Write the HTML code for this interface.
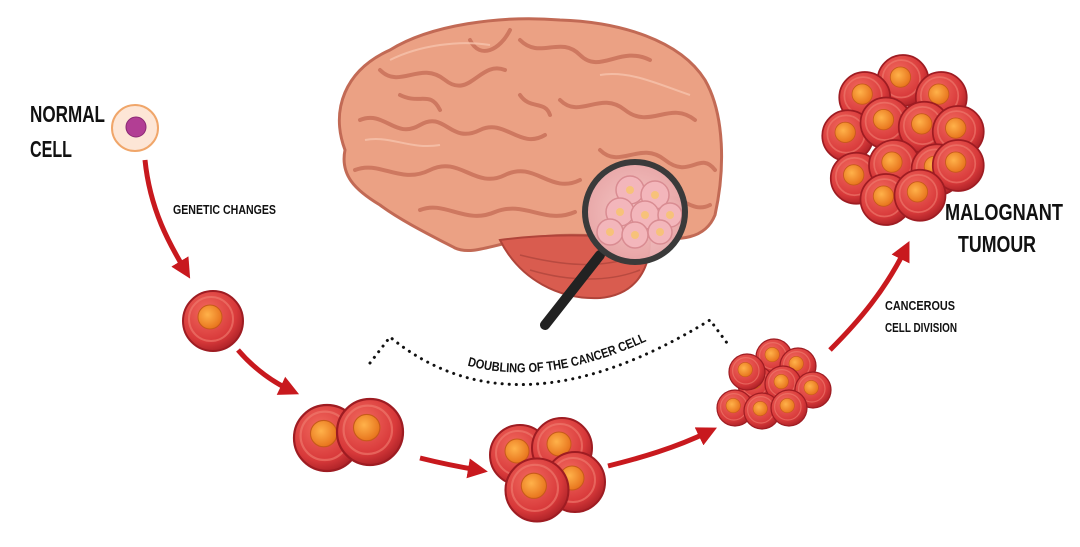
<!DOCTYPE html>
<html><head><meta charset="utf-8"><style>
html,body{margin:0;padding:0;background:#fff;width:1080px;height:547px;overflow:hidden}
svg{display:block}
text{font-family:"Liberation Sans Narrow","Liberation Sans",sans-serif;font-weight:bold;fill:#111}
</style></head><body>
<svg width="1080" height="547" viewBox="0 0 1080 547" xmlns="http://www.w3.org/2000/svg">
<defs>
<radialGradient id="cell" cx="0.4" cy="0.35" r="0.7">
<stop offset="0" stop-color="#f26a5e"/><stop offset="0.7" stop-color="#d8393a"/><stop offset="1" stop-color="#a81f25"/></radialGradient>
<radialGradient id="nuc" cx="0.4" cy="0.4" r="0.6">
<stop offset="0" stop-color="#ffb24a"/><stop offset="1" stop-color="#e8761e"/></radialGradient>
<radialGradient id="lens" cx="0.5" cy="0.5" r="0.5">
<stop offset="0" stop-color="#f6c8c8"/><stop offset="1" stop-color="#e8a8aa"/></radialGradient>
<g id="c"><circle r="30" fill="url(#cell)" stroke="#9e1c22" stroke-width="2"/><circle cx="-2" cy="-2" r="22" fill="none" stroke="#f07f72" stroke-width="2" opacity="0.6"/><circle cx="-3" cy="-4" r="12" fill="url(#nuc)" stroke="#c75a1a" stroke-width="1"/></g>
<marker id="ah" viewBox="0 0 10 10" refX="5" refY="5" markerWidth="4" markerHeight="4" orient="auto"><path d="M0,0 L10,5 L0,10 z" fill="#c8191e"/></marker>
<path id="tp" d="M395,328 Q515,425 705,310"/>
</defs>

<!-- Brain -->
<g>
<path d="M345,150 C330,110 345,70 390,50 C430,25 500,15 560,20 C620,22 680,40 705,80 C725,115 725,170 715,215 C705,240 680,240 650,238 C600,236 560,232 520,240 C490,246 470,255 455,248 C430,235 400,220 380,205 C355,190 340,175 345,150 Z" fill="#eba184" stroke="#c26a55" stroke-width="3"/>
<path d="M500,240 C520,280 560,300 600,298 C635,295 650,270 650,240 C610,236 560,232 500,240 Z" fill="#d95c4f" stroke="#b0443a" stroke-width="2"/>
<g fill="none" stroke="#c9715a" stroke-width="4" stroke-linecap="round" opacity="0.85">
<path d="M380,70 C400,90 420,60 445,80 C470,100 480,60 505,70"/>
<path d="M520,40 C540,60 560,35 580,55 C600,75 620,45 650,60"/>
<path d="M360,120 C385,110 395,140 420,125 C445,110 450,145 480,130 C505,118 520,150 545,135"/>
<path d="M560,100 C580,120 600,90 625,110 C650,130 670,100 695,120"/>
<path d="M355,170 C380,160 400,185 430,170 C460,155 475,190 505,175 C535,160 550,195 580,180"/>
<path d="M600,150 C620,170 640,140 665,160 C690,180 700,150 715,170"/>
<path d="M420,210 C445,200 465,225 495,212 C525,200 545,225 575,212"/>
<path d="M400,95 C420,105 430,90 440,110"/>
<path d="M470,40 C480,60 500,50 510,30"/>
<path d="M660,200 C680,190 690,215 710,205"/>
<path d="M520,95 C530,110 545,100 550,115"/>
</g>
<g fill="none" stroke="#f6c3ad" stroke-width="2" opacity="0.8">
<path d="M390,60 C420,45 460,40 490,45"/>
<path d="M365,140 C390,135 410,150 440,145"/>
<path d="M600,75 C630,70 660,85 690,95"/>
</g>
<g stroke="#b84a40" stroke-width="1.5" fill="none"><path d="M520,255 C560,265 600,270 640,255"/><path d="M530,270 C570,282 610,282 640,270"/></g>
</g>
<!-- magnifier -->
<line x1="600" y1="255" x2="545" y2="325" stroke="#222" stroke-width="10" stroke-linecap="round"/>
<circle cx="635" cy="212" r="50" fill="url(#lens)" opacity="0.95"/>
<g fill="#f3b6bb" stroke="#d98c92" stroke-width="1.5">
<circle cx="630" cy="190" r="14"/><circle cx="655" cy="195" r="14"/><circle cx="620" cy="212" r="14"/><circle cx="645" cy="215" r="14"/><circle cx="670" cy="215" r="12"/><circle cx="610" cy="232" r="13"/><circle cx="635" cy="235" r="13"/><circle cx="660" cy="232" r="12"/></g>
<g fill="#f7c27a"><circle cx="630" cy="190" r="4"/><circle cx="655" cy="195" r="4"/><circle cx="620" cy="212" r="4"/><circle cx="645" cy="215" r="4"/><circle cx="670" cy="215" r="4"/><circle cx="610" cy="232" r="4"/><circle cx="635" cy="235" r="4"/><circle cx="660" cy="232" r="4"/></g>
<circle cx="635" cy="212" r="50" fill="none" stroke="#3a3a3a" stroke-width="6"/>

<!-- normal cell -->
<circle cx="135" cy="128" r="23" fill="#fde6d6" stroke="#f0a66a" stroke-width="2"/>
<circle cx="136" cy="127" r="10" fill="#b23e94" stroke="#8c2a74"/>
<text x="30" y="122" font-size="23" textLength="75" lengthAdjust="spacingAndGlyphs">NORMAL</text>
<text x="30" y="157" font-size="23" textLength="42" lengthAdjust="spacingAndGlyphs">CELL</text>
<text x="173" y="214" font-size="13" textLength="103" lengthAdjust="spacingAndGlyphs">GENETIC CHANGES</text>

<!-- arrows -->
<g fill="none" stroke="#c8191e" stroke-width="5" marker-end="url(#ah)">
<path d="M145,160 C150,210 170,245 185,270"/>
<path d="M238,350 C255,370 275,383 290,390"/>
<path d="M420,458 C440,463 460,467 478,470"/>
<path d="M608,466 C640,458 675,448 708,432"/>
<path d="M830,350 C860,320 885,290 905,250"/>
</g>

<!-- single cell -->
<use href="#c" x="213" y="321"/>
<!-- double -->
<use href="#c" transform="translate(327,438) scale(1.1)"/>
<use href="#c" transform="translate(370,432) scale(1.1)"/>
<!-- four -->
<use href="#c" x="520" y="455"/>
<use href="#c" x="562" y="448"/>
<use href="#c" x="575" y="482"/>
<use href="#c" transform="translate(537,490) scale(1.05)"/>
<!-- cluster -->
<g transform="translate(780,390) scale(0.6)">
<use href="#c" x="-10" y="-55"/><use href="#c" x="30" y="-40"/>
<use href="#c" x="-40" y="-10"/><use href="#c" x="5" y="-10"/><use href="#c" x="55" y="0"/>
<use href="#c" x="-75" y="30"/><use href="#c" x="-30" y="35"/><use href="#c" x="15" y="30"/><use href="#c" x="-55" y="-30"/>
</g>
<text x="885" y="310" font-size="13" textLength="70" lengthAdjust="spacingAndGlyphs">CANCEROUS</text>
<text x="885" y="332" font-size="13" textLength="72" lengthAdjust="spacingAndGlyphs">CELL DIVISION</text>
<!-- tumour -->
<g transform="translate(903,140) scale(0.85)">
<use href="#c" x="0" y="-70"/><use href="#c" x="-45" y="-50"/><use href="#c" x="45" y="-50"/>
<use href="#c" x="-65" y="-5"/><use href="#c" x="-20" y="-20"/><use href="#c" x="25" y="-15"/><use href="#c" x="65" y="-10"/>
<use href="#c" x="-55" y="45"/><use href="#c" x="-10" y="30"/><use href="#c" x="40" y="35"/><use href="#c" x="65" y="30"/>
<use href="#c" x="-20" y="70"/><use href="#c" x="20" y="65"/>
</g>
<text x="945" y="220" font-size="23" textLength="118" lengthAdjust="spacingAndGlyphs">MALOGNANT</text>
<text x="958" y="252" font-size="23" textLength="78" lengthAdjust="spacingAndGlyphs">TUMOUR</text>

<!-- dotted arc -->
<path d="M370,363 L390,337 Q515,440 710,320 L727,343" fill="none" stroke="#111" stroke-width="3" stroke-dasharray="0.1 7" stroke-linecap="round"/>
<text font-size="13" textLength="185" lengthAdjust="spacingAndGlyphs"><textPath href="#tp" startOffset="82" textLength="185" lengthAdjust="spacingAndGlyphs">DOUBLING OF THE CANCER CELL</textPath></text>
</svg>
</body></html>
